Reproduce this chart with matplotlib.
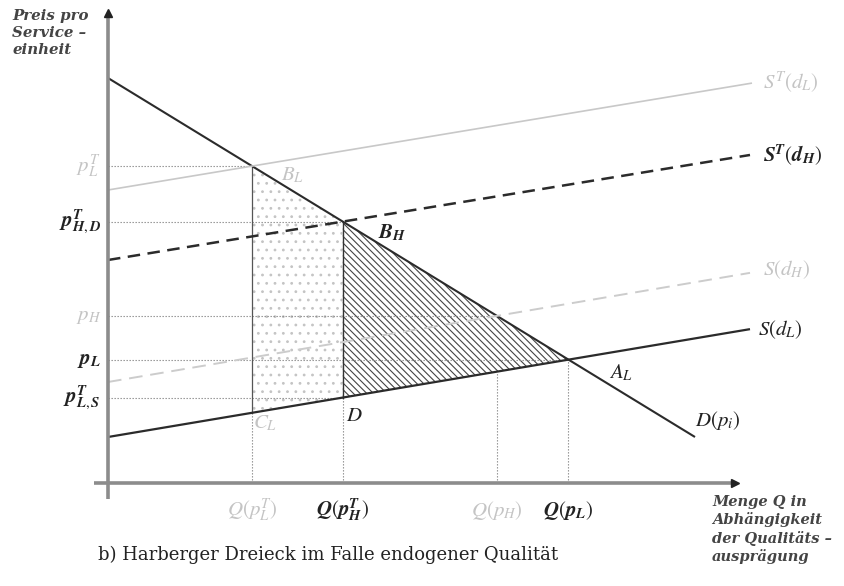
import numpy as np
import matplotlib.pyplot as plt
from matplotlib.patches import Polygon

plt.rcParams['mathtext.fontset'] = 'stix'
plt.rcParams['hatch.linewidth'] = 0.8

# ---- model curves (intercept, slope, end quantity) ----
curve_names = ['D', 'S_L', 'S_H', 'ST_H', 'ST_L']
intercepts = [405, 46, 101, 223, 293]
slopes = [-0.6116, 0.168, 0.170, 0.1636, 0.166]
x_ends = [587, 642, 642, 642, 644]

curve_colors = ['#2b2b2b', '#2b2b2b', '#cccccc', '#2b2b2b', '#c8c8c8']
curve_styles = ['-', '-', (0, (7, 4)), (0, (5, 3)), '-']
curve_widths = [1.5, 1.6, 1.4, 1.8, 1.2]

# axis extents
x_axis = [-14, 627]
y_axis = [-16, 470]

DARK = '#222222'
LIGHT = '#c4c4c4'
FS = 15

C = {n: (a, b, e) for n, a, b, e in zip(curve_names, intercepts, slopes, x_ends)}


def f(name, x):
    a, b, _ = C[name]
    return a + b * x


def inter(n1, n2):
    a1, b1, _ = C[n1]
    a2, b2, _ = C[n2]
    x = (a2 - a1) / (b1 - b2)
    return x, a1 + b1 * x


qLT, pLT = inter('D', 'ST_L')     # B_L
qHT, pHT = inter('D', 'ST_H')     # B_H
qH, pH = inter('D', 'S_H')
qL, pL = inter('D', 'S_L')        # A_L
pLS = f('S_L', qHT)               # D
pCL = f('S_L', qLT)               # C_L

fig = plt.figure(figsize=(8.44, 5.86), dpi=100)
ax = fig.add_axes([0, 0, 1, 1])
ax.set_xlim(-108, 736)
ax.set_ylim(-103, 483)
ax.axis('off')

# dotted area
dots = Polygon([(qLT, pLT), (qHT, pHT), (qHT, pLS), (qLT, pCL)], closed=True,
               facecolor='white', edgecolor='#c4c4c4', hatch='..', linewidth=0, zorder=1)
ax.add_patch(dots)
# hatched triangle
tri = Polygon([(qHT, pHT), (qL, pL), (qHT, pLS)], closed=True,
              facecolor='white', edgecolor='#444444', hatch='\\\\\\\\\\', linewidth=0, zorder=1)
ax.add_patch(tri)

# helper dotted lines
dot_kw = dict(color='#8a8a8a', linestyle=(0, (1.2, 1.5)), linewidth=0.8, zorder=2)
for p, q in [(pLT, qLT), (pHT, qHT), (pH, qH), (pL, qL), (pLS, qHT)]:
    ax.plot([0, q], [p, p], **dot_kw)
ax.plot([qLT, qLT], [0, pCL], **dot_kw)
ax.plot([qHT, qHT], [0, pLS], **dot_kw)
ax.plot([qH, qH], [0, f('S_L', qH)], **dot_kw)
ax.plot([qL, qL], [0, pL], **dot_kw)
# solid verticals of areas
ax.plot([qLT, qLT], [pCL, pLT], color='#555555', linewidth=0.9, zorder=3)
ax.plot([qHT, qHT], [pLS, pHT], color='#333333', linewidth=1.0, zorder=3)

# curves
for n, col, ls, lw in zip(curve_names, curve_colors, curve_styles, curve_widths):
    a, b, e = C[n]
    xs = np.array([0, e])
    ax.plot(xs, a + b * xs, color=col, linestyle=ls, linewidth=lw, zorder=4,
            solid_capstyle='butt')

# axes
ax.plot(x_axis, [0, 0], color='#8c8c8c', linewidth=2.6, zorder=5, solid_capstyle='butt')
ax.plot([0, 0], y_axis, color='#8c8c8c', linewidth=2.6, zorder=5, solid_capstyle='butt')
ax.plot([x_axis[1]], [0], marker='>', color='#222222', markersize=6, zorder=6)
ax.plot([0], [y_axis[1]], marker='^', color='#222222', markersize=6, zorder=6)

# axis titles
ax.text(-96, 474, 'Preis pro\nService –\neinheit', ha='left', va='top',
        family='DejaVu Serif', style='italic', weight='bold', fontsize=10.8,
        color='#444444', linespacing=1.25)
ax.text(604, -12, 'Menge Q in\nAbhängigkeit\nder Qualitäts –\nausprägung', ha='left', va='top',
        family='DejaVu Serif', style='italic', weight='bold', fontsize=10.5,
        color='#444444', linespacing=1.28)
ax.text(-10, -72, 'b) Harberger Dreieck im Falle endogener Qualität', ha='left', va='center',
        family='DejaVu Serif', fontsize=13, color='#222222')

# price labels
price_labels = [r'$p_L^T$', r'$\boldsymbol{p}_{\boldsymbol{H,D}}^{\boldsymbol{T}}$',
                r'$p_H$', r'$\boldsymbol{p}_{\boldsymbol{L}}$',
                r'$\boldsymbol{p}_{\boldsymbol{L,S}}^{\boldsymbol{T}}$']
price_vals = [pLT, pHT, pH, pL, pLS]
price_cols = [LIGHT, DARK, LIGHT, DARK, DARK]
for lab, v, c in zip(price_labels, price_vals, price_cols):
    ax.text(-7, v, lab, ha='right', va='center', fontsize=FS, color=c)

# quantity labels
q_labels = [r'$Q(p_L^T)$', r'$\boldsymbol{Q}(\boldsymbol{p}_{\boldsymbol{H}}^{\boldsymbol{T}})$',
            r'$Q(p_H)$', r'$\boldsymbol{Q}(\boldsymbol{p}_{\boldsymbol{L}})$']
q_vals = [qLT, qHT, qH, qL]
q_cols = [LIGHT, DARK, LIGHT, DARK]
for lab, v, c in zip(q_labels, q_vals, q_cols):
    ax.text(v, -27, lab, ha='center', va='center', fontsize=FS, color=c)

# curve labels
ax.text(655, 401, r'$S^T(d_L)$', ha='left', va='center', fontsize=FS, color=LIGHT)
ax.text(655, 328, r'$\boldsymbol{S}^{\boldsymbol{T}}(\boldsymbol{d}_{\boldsymbol{H}})$',
        ha='left', va='center', fontsize=FS, color=DARK)
ax.text(655, 213, r'$S(d_H)$', ha='left', va='center', fontsize=FS, color=LIGHT)
ax.text(650, 153, r'$S(d_L)$', ha='left', va='center', fontsize=FS, color=DARK)
ax.text(513, 110, r'$A_L$', ha='center', va='center', fontsize=FS, color=DARK)
ax.text(587, 63, r'$D(p_i)$', ha='left', va='center', fontsize=FS, color=DARK)
ax.text(185, 308, r'$B_L$', ha='center', va='center', fontsize=FS, color=LIGHT)
ax.text(284, 250, r'$\boldsymbol{B}_{\boldsymbol{H}}$', ha='center', va='center', fontsize=FS, color=DARK)
ax.text(157, 60, r'$C_L$', ha='center', va='center', fontsize=FS, color=LIGHT)
ax.text(246, 68, r'$D$', ha='center', va='center', fontsize=FS, color=DARK)

fig.savefig('out.png', dpi=100)
